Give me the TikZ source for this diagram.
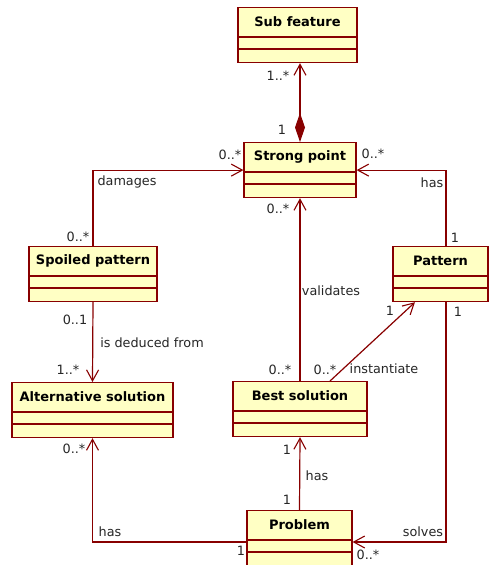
\documentclass[tikz,border=0pt]{standalone}
\usepackage{fontspec}
\setmainfont{DejaVu Sans}
\usetikzlibrary{calc,arrows.meta}

\definecolor{classline}{RGB}{136,0,0}
\definecolor{classfill}{RGB}{255,255,196}

\tikzset{
  classbox/.style={draw=classline, fill=classfill, line width=1.2pt, inner sep=0pt, rectangle},
  classtitle/.style={font=\fontsize{13}{15}\selectfont\bfseries, inner sep=0pt},
  assoc/.style={draw=classline, line width=1.2pt},
  openhead/.style={-{Straight Barb[length=11pt,width=12pt,line width=1.1pt]}},
  mult/.style={font=\fontsize{12.8}{15}\selectfont, text=black!85, inner sep=0pt},
}

% class box: name, centre x, top y, width, title
\newcommand{\umlclass}[5]{%
  \node[classbox, minimum width=#4pt, minimum height=55pt, anchor=north] (#1) at (#2,#3) {};
  \node[classtitle] (#1-t) at ($(#1.north)+(0,15)$) {#5};
  \draw[classline, line width=1.2pt] ($(#1.north west)+(0,30)$) -- ($(#1.north east)+(0,30)$)
    ($(#1.north west)+(0,42)$) -- ($(#1.north east)+(0,42)$);
}

\begin{document}
\begin{tikzpicture}[x=1pt,y=-1pt,line join=miter]
  \useasboundingbox (0,0) rectangle (489,565);

  % classes
  \umlclass{sub}{297.5}{7}{119}{Sub feature}
  \umlclass{strong}{300}{142}{112}{Strong point}
  \umlclass{spoiled}{93}{246}{128}{Spoiled pattern}
  \umlclass{pattern}{440.5}{246}{95}{Pattern}
  \umlclass{alt}{92.5}{382}{161}{Alternative solution}
  \umlclass{best}{300}{381}{134}{Best solution}
  \umlclass{problem}{299.5}{510}{105}{Problem}

  % bend points
  \coordinate (patup) at ($(pattern.north)+(5.5,0)$);
  \coordinate (patdown) at ($(pattern.south)+(5.5,0)$);
  \coordinate (bestup) at ($(best.north)+(30,0)$);
  \coordinate (patleft) at ($(pattern.south)+(-25.5,0)$);
  \coordinate (probleft) at ($(problem.north west)+(0,32)$);
  \coordinate (probright) at ($(problem.north east)+(0,32)$);

  % associations
  \draw[assoc, {Diamond[length=29pt,width=10pt,fill=classline]}-{Straight Barb[length=11pt,width=12pt,line width=1.1pt]}]
    (strong.north) -- (strong.north |- sub.south);
  \draw[assoc, openhead] (spoiled.north) |- (strong.west);
  \draw[assoc, openhead] (patup) |- (strong.east);
  \draw[assoc, openhead] (spoiled.south) -- (alt.north);
  \draw[assoc, openhead] (best.north) -- (strong.south);
  \draw[assoc, openhead] (bestup) -- (patleft);
  \draw[assoc, openhead] (problem.north) -- (best.south);
  \draw[assoc, openhead] (probleft) -| (alt.south);
  \draw[assoc, openhead] (patdown) |- (probright);

  % multiplicities and names
  \node[mult] (m1) at (278,76) {1..*};
  \node[mult] (m2) at (282,130) {1};
  \node[mult] (m3) at (230,155) {0..*};
  \node[mult] (n1) at (127,182) {damages};
  \node[mult] (m4) at (78,237) {0..*};
  \node[mult] (m5) at (373,154) {0..*};
  \node[mult] (n2) at (432,183) {has};
  \node[mult] (m6) at (455,238) {1};
  \node[mult] (m7) at (278,209) {0..*};
  \node[mult] (n3) at (331,291) {validates};
  \node[mult] (m8) at (75,320) {0..1};
  \node[mult] (n4) at (152,343) {is deduced from};
  \node[mult] (m9) at (68,370) {1..*};
  \node[mult] (m10) at (390,311) {1};
  \node[mult] (m11) at (458,312) {1};
  \node[mult] (m12) at (280,370) {0..*};
  \node[mult] (m13) at (325,370) {0..*};
  \node[mult] (n5) at (384,369) {instantiate};
  \node[mult] (m14) at (74,449) {0..*};
  \node[mult] (m15) at (287,450) {1};
  \node[mult] (n6) at (317,476) {has};
  \node[mult] (m16) at (287,500) {1};
  \node[mult] (n7) at (110,532) {has};
  \node[mult] (m17) at (241,551) {1};
  \node[mult] (n8) at (423,532) {solves};
  \node[mult] (m18) at (368,555) {0..*};
\end{tikzpicture}
\end{document}
